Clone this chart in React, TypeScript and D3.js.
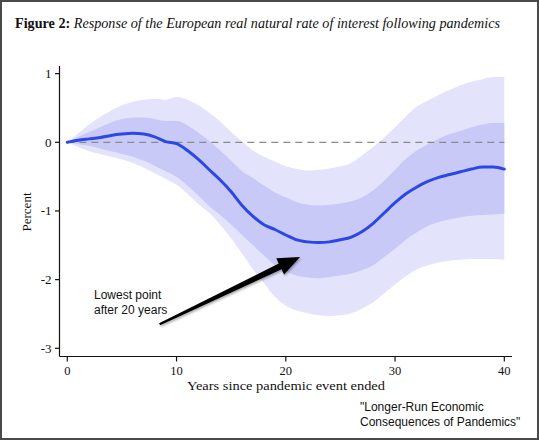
import React from "react";
import * as d3 from "d3";

const years = d3.range(0, 41);
const median = [0, 0.03, 0.05, 0.07, 0.1, 0.12, 0.13, 0.12, 0.08, 0.01, -0.02, -0.12, -0.25, -0.4, -0.55, -0.72, -0.92, -1.08, -1.2, -1.27, -1.35, -1.42, -1.45, -1.46, -1.45, -1.42, -1.38, -1.3, -1.18, -1.03, -0.88, -0.75, -0.65, -0.57, -0.51, -0.47, -0.43, -0.39, -0.36, -0.36, -0.39];
const innerUpper = [0, 0.08, 0.15, 0.22, 0.29, 0.34, 0.36, 0.36, 0.34, 0.31, 0.31, 0.25, 0.14, 0.02, -0.12, -0.27, -0.42, -0.52, -0.63, -0.73, -0.8, -0.87, -0.91, -0.92, -0.91, -0.89, -0.86, -0.8, -0.7, -0.56, -0.4, -0.24, -0.12, -0.03, 0.05, 0.12, 0.17, 0.22, 0.26, 0.28, 0.28];
const innerLower = [0, -0.03, -0.05, -0.09, -0.13, -0.17, -0.21, -0.27, -0.34, -0.42, -0.5, -0.63, -0.78, -0.93, -1.06, -1.2, -1.35, -1.5, -1.65, -1.79, -1.88, -1.94, -1.97, -1.98, -1.96, -1.94, -1.91, -1.86, -1.79, -1.67, -1.55, -1.42, -1.31, -1.22, -1.16, -1.12, -1.09, -1.07, -1.06, -1.05, -1.04];
const outerUpper = [0, 0.13, 0.26, 0.37, 0.46, 0.54, 0.59, 0.62, 0.63, 0.62, 0.66, 0.62, 0.54, 0.43, 0.3, 0.15, 0.01, -0.12, -0.21, -0.28, -0.35, -0.39, -0.41, -0.4, -0.38, -0.35, -0.3, -0.19, -0.07, 0.07, 0.22, 0.38, 0.52, 0.61, 0.69, 0.76, 0.83, 0.88, 0.92, 0.95, 0.95];
const outerLower = [0, -0.07, -0.13, -0.17, -0.21, -0.25, -0.3, -0.37, -0.45, -0.53, -0.62, -0.75, -0.9, -1.03, -1.2, -1.4, -1.62, -1.85, -2.05, -2.25, -2.38, -2.45, -2.49, -2.52, -2.53, -2.52, -2.49, -2.42, -2.33, -2.2, -2.07, -1.95, -1.85, -1.79, -1.75, -1.72, -1.71, -1.7, -1.7, -1.7, -1.71];
const xTicks = [0, 10, 20, 30, 40];
const yTicks = [1, 0, -1, -2, -3];
const yTickLabels = ["1", "0", "-1", "-2", "-3"];
const arrowFrom = [8.45, -2.65];
const arrowTo = [21.3, -1.67];

const serif = "'Palatino Linotype', 'Book Antiqua', Palatino, 'Liberation Serif', serif";
const sans = "'Liberation Sans', Arial, Helvetica, sans-serif";

export default function App() {
  const W = 539;
  const H = 440;
  const x = d3.scaleLinear().domain([0, 40]).range([67.3, 504.3]);
  const y = d3.scaleLinear().domain([0, -3]).range([142.3, 348.3]);
  const xLeft = 59.5;
  const xRight = 512;
  const yBottom = 356.5;
  const yTop = 66;

  const band = (lo: number[], hi: number[]) =>
    d3
      .area<number>()
      .x((d) => x(d))
      .y0((d, i) => y(lo[i]))
      .y1((d, i) => y(hi[i]))
      .curve(d3.curveMonotoneX)(years) as string;

  const line = d3
    .line<number>()
    .x((d) => x(d))
    .y((d, i) => y(median[i]))
    .curve(d3.curveMonotoneX)(years) as string;

  // tapered arrow
  const x0 = x(arrowFrom[0]);
  const y0 = y(arrowFrom[1]);
  const x1 = x(arrowTo[0]);
  const y1 = y(arrowTo[1]);
  const len = Math.hypot(x1 - x0, y1 - y0);
  const ux = (x1 - x0) / len;
  const uy = (y1 - y0) / len;
  const nx = -uy;
  const ny = ux;
  const headLen = 22;
  const headHalf = 9;
  const bx = x1 - ux * headLen;
  const by = y1 - uy * headLen;
  const tailHalf = 1.2;
  const shaftHalf = 3.2;
  const arrowPts = [
    [x0 + nx * tailHalf, y0 + ny * tailHalf],
    [bx + nx * shaftHalf, by + ny * shaftHalf],
    [bx + nx * headHalf, by + ny * headHalf],
    [x1, y1],
    [bx - nx * headHalf, by - ny * headHalf],
    [bx - nx * shaftHalf, by - ny * shaftHalf],
    [x0 - nx * tailHalf, y0 - ny * tailHalf],
  ]
    .map((p) => p.join(","))
    .join(" ");

  return (
    <div style={{ position: "absolute", left: 0, top: 0 }}>
      <svg width={W} height={H} style={{ display: "block", background: "#fff" }}>
        <defs>
          <filter id="shadow" x="-20%" y="-20%" width="140%" height="140%">
            <feDropShadow dx="1" dy="1.5" stdDeviation="1.2" floodColor="#000" floodOpacity="0.35" />
          </filter>
        </defs>
        <rect x={1} y={1} width={W - 2} height={H - 2} fill="#fff" stroke="#4a4a4a" strokeWidth={2} />

        <text x={15} y={28} fontFamily={serif} fontSize={14} fill="#111" textLength={485} lengthAdjust="spacingAndGlyphs">
          <tspan fontWeight="bold">Figure 2:</tspan>
          <tspan fontStyle="italic"> Response of the European real natural rate of interest following pandemics</tspan>
        </text>

        <path d={band(outerLower, outerUpper)} fill="#e3e3fb" />
        <path d={band(innerLower, innerUpper)} fill="#c9c9f8" />
        <line x1={x(0)} x2={x(40)} y1={y(0)} y2={y(0)} stroke="#8a8a8a" strokeWidth={1.2} strokeDasharray="7,5" />
        <path d={line} fill="none" stroke="#2b49e2" strokeWidth={3} strokeLinejoin="round" strokeLinecap="round" />

        {/* axes */}
        <line x1={xLeft} x2={xLeft} y1={yTop} y2={yBottom} stroke="#111" strokeWidth={1.2} />
        <line x1={xLeft} x2={xRight} y1={yBottom} y2={yBottom} stroke="#111" strokeWidth={1.2} />
        {yTicks.map((t, i) => (
          <g key={"y" + t}>
            <line x1={xLeft - 4.5} x2={xLeft} y1={y(t)} y2={y(t)} stroke="#111" strokeWidth={1.2} />
            <text x={51.5} y={y(t) + 4.5} textAnchor="end" fontFamily={serif} fontSize={13} fill="#111">
              {yTickLabels[i]}
            </text>
          </g>
        ))}
        {xTicks.map((t) => (
          <g key={"x" + t}>
            <line x1={x(t)} x2={x(t)} y1={yBottom} y2={yBottom + 5} stroke="#111" strokeWidth={1.2} />
            <text x={x(t)} y={375} textAnchor="middle" fontFamily={serif} fontSize={12.5} fill="#111">
              {t}
            </text>
          </g>
        ))}
        <text x={187} y={390} fontFamily={serif} fontSize={13.5} fill="#111" textLength={198} lengthAdjust="spacingAndGlyphs">
          Years since pandemic event ended
        </text>
        <text transform="translate(31,212) rotate(-90)" textAnchor="middle" fontFamily={serif} fontSize={13} fill="#111">
          Percent
        </text>

        {/* annotation */}
        <polygon points={arrowPts} fill="#000" filter="url(#shadow)" />
        <text x={94} y={299} fontFamily={sans} fontSize={12} fill="#111">
          Lowest point
        </text>
        <text x={94} y={314} fontFamily={sans} fontSize={12} fill="#111">
          after 20 years
        </text>

        <text x={360} y={411} fontFamily={sans} fontSize={12} fill="#111">
          "Longer-Run Economic
        </text>
        <text x={360} y={426} fontFamily={sans} fontSize={12} fill="#111">
          Consequences of Pandemics"
        </text>
      </svg>
    </div>
  );
}
